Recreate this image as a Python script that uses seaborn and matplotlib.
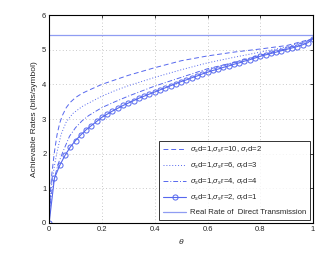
import seaborn as sns
import matplotlib
matplotlib.use("Agg")
import matplotlib.pyplot as plt

# curve: sigma_r = 10, sigma_d = 2 (dashed)
theta_a = [0, 0.005, 0.01, 0.02, 0.03, 0.04, 0.05, 0.065, 0.08, 0.1, 0.125, 0.15,
           0.2, 0.25, 0.3, 0.4, 0.5, 0.6, 0.7, 0.8, 0.9, 1.0]
rate_a = [0, 0.9, 1.4, 2.05, 2.55, 2.88, 3.1, 3.33, 3.48, 3.62, 3.74, 3.83,
          4.0, 4.13, 4.26, 4.48, 4.68, 4.82, 4.93, 5.02, 5.12, 5.32]

# curve: sigma_r = 6, sigma_d = 3 (dotted)
theta_b = [0, 0.005, 0.01, 0.02, 0.03, 0.045, 0.065, 0.09, 0.125, 0.165,
           0.2, 0.25, 0.3, 0.4, 0.5, 0.6, 0.7, 0.8, 0.9, 1.0]
rate_b = [0, 0.75, 1.15, 1.65, 2.05, 2.55, 2.92, 3.16, 3.36, 3.52,
          3.66, 3.82, 3.96, 4.2, 4.42, 4.62, 4.78, 4.93, 5.08, 5.32]

# curve: sigma_r = 4, sigma_d = 4 (dash-dot)
theta_c = [0, 0.005, 0.01, 0.02, 0.035, 0.052, 0.077, 0.1, 0.125, 0.15,
           0.2, 0.25, 0.3, 0.4, 0.5, 0.6, 0.7, 0.8, 0.9, 1.0]
rate_c = [0, 0.6, 0.9, 1.3, 1.72, 2.05, 2.5, 2.75, 2.95, 3.1,
          3.33, 3.5, 3.66, 3.95, 4.2, 4.45, 4.63, 4.84, 5.03, 5.32]

# curve: sigma_r = 2, sigma_d = 1 (circles)
theta_d = [0, 0.02, 0.04, 0.06, 0.08, 0.10, 0.12, 0.14, 0.16, 0.18, 0.20,
           0.22, 0.24, 0.26, 0.28, 0.30, 0.32, 0.34, 0.36, 0.38, 0.40,
           0.42, 0.44, 0.46, 0.48, 0.50, 0.52, 0.54, 0.56, 0.58, 0.60,
           0.62, 0.64, 0.66, 0.68, 0.70, 0.72, 0.74, 0.76, 0.78, 0.80,
           0.82, 0.84, 0.86, 0.88, 0.90, 0.92, 0.94, 0.96, 0.98, 1.00]
rate_d = [0, 1.29, 1.66, 1.95, 2.19, 2.38, 2.54, 2.69, 2.81, 2.93, 3.05,
          3.14, 3.23, 3.31, 3.39, 3.46, 3.53, 3.60, 3.66, 3.72, 3.78,
          3.84, 3.90, 3.96, 4.02, 4.08, 4.13, 4.19, 4.24, 4.30, 4.35,
          4.40, 4.44, 4.49, 4.53, 4.58, 4.62, 4.67, 4.71, 4.76, 4.81,
          4.85, 4.89, 4.93, 4.97, 5.01, 5.05, 5.09, 5.14, 5.20, 5.32]

# direct transmission
theta_direct = [0, 1]
rate_direct = [5.43, 5.43]

labels = [r'$\sigma_s$d=1,$\sigma_s$r=10, $\sigma_r$d=2',
          r'$\sigma_s$d=1,$\sigma_s$r=6, $\sigma_r$d=3',
          r'$\sigma_s$d=1,$\sigma_s$r=4, $\sigma_r$d=4',
          r'$\sigma_s$d=1,$\sigma_s$r=2, $\sigma_r$d=1',
          'Real Rate of  Direct Transmission']

sns.set_style("white")
plt.rcParams['font.family'] = ['Liberation Sans', 'DejaVu Sans']
plt.rcParams['mathtext.fontset'] = 'custom'
plt.rcParams['mathtext.rm'] = 'Liberation Sans'
plt.rcParams['mathtext.it'] = 'Liberation Sans:italic'

blue = '#5668ee'
light = '#8f9cf2'

fig = plt.figure(figsize=(3.32, 2.59), dpi=100)
ax = fig.add_axes([0.148, 0.139, 0.795, 0.803])

sns.lineplot(x=theta_a, y=rate_a, ax=ax, color=blue, linestyle=(0, (5, 3)), lw=0.7, label=labels[0])
sns.lineplot(x=theta_b, y=rate_b, ax=ax, color=blue, linestyle=(0, (1, 2)), lw=0.7, label=labels[1])
sns.lineplot(x=theta_c, y=rate_c, ax=ax, color=blue, linestyle=(0, (5, 2, 1, 2)), lw=0.7, label=labels[2])
sns.lineplot(x=theta_d, y=rate_d, ax=ax, color=blue, lw=0.8, marker='o', markersize=3.7,
             markerfacecolor='none', markeredgecolor=blue, markeredgewidth=0.7, label=labels[3])
sns.lineplot(x=theta_direct, y=rate_direct, ax=ax, color=light, lw=0.9, label=labels[4])

ax.set_xlim(0, 1)
ax.set_ylim(0, 6)
ax.set_xticks([0, 0.2, 0.4, 0.6, 0.8, 1])
ax.set_xticklabels(['0', '0.2', '0.4', '0.6', '0.8', '1'])
ax.set_yticks(range(7))
ax.grid(True, linestyle=(0, (1, 3)), color='#b8b8b8', linewidth=0.6)
ax.tick_params(direction='in', length=2.5, width=0.6, labelsize=5.5, pad=2,
               top=True, right=True)
for s in ax.spines.values():
    s.set_color('black')
    s.set_linewidth(0.8)

ax.set_xlabel(r'$\theta$', fontsize=6, labelpad=3)
ax.set_ylabel('Achievable Rates (bits/symbol)', fontsize=6, labelpad=3)

leg = ax.legend(loc='lower right', fontsize=5.6, frameon=True, fancybox=False,
                edgecolor='black', handlelength=3.0, handletextpad=0.5,
                borderaxespad=0.4, labelspacing=0.75, borderpad=0.45)
leg.get_frame().set_linewidth(0.7)

fig.savefig('out.png', dpi=100)
